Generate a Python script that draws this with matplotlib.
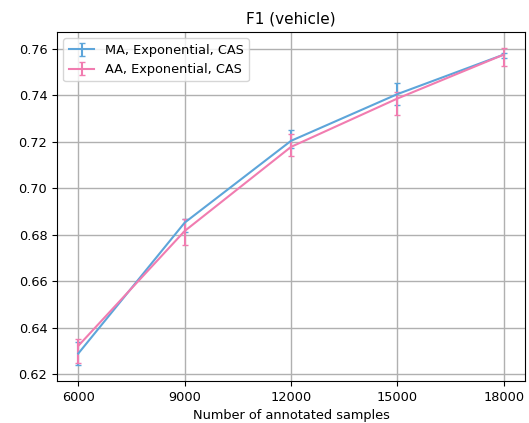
import numpy as np
import matplotlib
matplotlib.use('Agg')
import matplotlib.pyplot as plt

SAMPLES = [6000, 9000, 12000, 15000, 18000]

MA_MEAN = [0.6289, 0.6852, 0.7204, 0.7405, 0.7575]
MA_LOW = [0.6239, 0.6812, 0.7175, 0.7358, 0.7561]
MA_HIGH = [0.6340, 0.6867, 0.7251, 0.7451, 0.7584]

AA_MEAN = [0.6322, 0.6816, 0.7178, 0.7386, 0.7575]
AA_LOW = [0.6250, 0.6757, 0.7139, 0.7315, 0.7528]
AA_HIGH = [0.6352, 0.6866, 0.7233, 0.7416, 0.7604]

BLUE = '#5DA5DA'
PINK = '#F17CB0'

plt.rcParams['font.size'] = 9.3

fig = plt.figure(figsize=(5.29, 4.23), dpi=100)
ax = fig.add_axes([0.1078, 0.0993, 0.8846, 0.825])


def plot_series(mean, low, high, color, label):
    mean = np.array(mean)
    yerr = [mean - np.array(low), np.array(high) - mean]
    ax.errorbar(SAMPLES, mean, yerr=yerr, color=color, label=label,
                linewidth=1.5, elinewidth=1.5, capsize=2.5)


plot_series(MA_MEAN, MA_LOW, MA_HIGH, BLUE, 'MA, Exponential, CAS')
plot_series(AA_MEAN, AA_LOW, AA_HIGH, PINK, 'AA, Exponential, CAS')

ax.set_xticks(SAMPLES)
ax.set_yticks([0.62, 0.64, 0.66, 0.68, 0.70, 0.72, 0.74, 0.76])
ax.grid(True, color='#b0b0b0', linewidth=1)
ax.set_axisbelow(True)
ax.set_title('F1 (vehicle)', fontsize=11)
ax.set_xlabel('Number of annotated samples')
ax.legend(loc='upper left')

fig.savefig('out.png', dpi=100)
